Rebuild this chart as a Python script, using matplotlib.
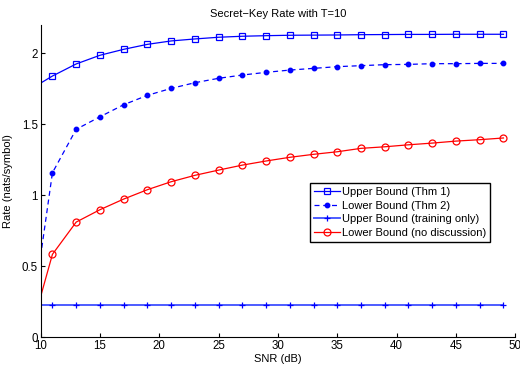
import matplotlib
matplotlib.use("Agg")
import matplotlib.pyplot as plt
from matplotlib.lines import Line2D

plt.rcParams['font.family'] = ['Liberation Sans', 'DejaVu Sans']

snr = [10, 11, 13, 15, 17, 19, 21, 23, 25, 27, 29, 31, 33, 35, 37, 39, 41, 43, 45, 47, 49]
upper_thm1 = [1.79, 1.84, 1.925, 1.986, 2.028, 2.063, 2.087, 2.101, 2.113, 2.120, 2.124,
              2.127, 2.128, 2.129, 2.131, 2.132, 2.133, 2.133, 2.134, 2.134, 2.134]
lower_thm2 = [0.57, 1.159, 1.465, 1.553, 1.638, 1.704, 1.753, 1.793, 1.824, 1.847, 1.866,
              1.882, 1.894, 1.906, 1.913, 1.920, 1.922, 1.927, 1.927, 1.929, 1.929]
upper_train = [0.225] * len(snr)
lower_nodisc = [0.286, 0.585, 0.812, 0.899, 0.974, 1.040, 1.096, 1.141, 1.178, 1.213, 1.242,
                1.268, 1.289, 1.307, 1.331, 1.342, 1.356, 1.368, 1.382, 1.392, 1.404]

labels = ['Upper Bound (Thm 1)', 'Lower Bound (Thm 2)',
          'Upper Bound (training only)', 'Lower Bound (no discussion)']

fig = plt.figure(figsize=(5.2, 3.66), dpi=100)
ax = fig.add_axes([0.078, 0.078, 0.913, 0.854])

styles = [
    dict(ls='-', color='#0000ff', lw=0.9, marker='s', ms=4, mfc='none', mec='#0000ff', mew=0.9),
    dict(ls=(0, (4, 3)), color='#0000ff', lw=0.9, marker='o', ms=3.2, mfc='#0000ff', mec='#0000ff'),
    dict(ls='-', color='#4d5cff', lw=1.4, marker='+', ms=4.5, mec='#0000ff', mew=0.9),
    dict(ls='-', color='#ff0000', lw=0.9, marker='o', ms=5, mfc='none', mec='#ff0000', mew=0.9),
]
series = [upper_thm1, lower_thm2, upper_train, lower_nodisc]

mk = list(range(1, len(snr)))
for ys, st in zip(series, styles):
    ax.plot(snr, ys, markevery=mk, **st)

handles = [Line2D([], [], **st) for st in styles]

ax.set_xlim(10, 50)
ax.set_ylim(0, 2.2)
ax.set_xticks([10, 15, 20, 25, 30, 35, 40, 45, 50])
ax.set_yticks([0, 0.5, 1, 1.5, 2])
ax.set_yticklabels(['0', '0.5', '1', '1.5', '2'])
ax.tick_params(direction='in', length=3, labelsize=8.3, width=0.8, pad=2)
ax.spines['top'].set_visible(False)
ax.spines['right'].set_visible(False)
for s in ['left', 'bottom']:
    ax.spines[s].set_linewidth(0.8)

ax.set_title('Secret\u2212Key Rate with T=10', fontsize=8, pad=6)
ax.set_xlabel('SNR (dB)', fontsize=8, labelpad=1)
ax.set_ylabel('Rate (nats/symbol)', fontsize=8, labelpad=6)

leg = ax.legend(handles, labels, loc='upper left', bbox_to_anchor=(0.568, 0.494),
                fontsize=8, numpoints=1, frameon=True, fancybox=False,
                edgecolor='black', framealpha=1,
                handlelength=2.3, handletextpad=0.2, borderpad=0.35, labelspacing=0.33,
                borderaxespad=0)
leg.get_frame().set_linewidth(1.0)

fig.savefig('out.png', dpi=100)
